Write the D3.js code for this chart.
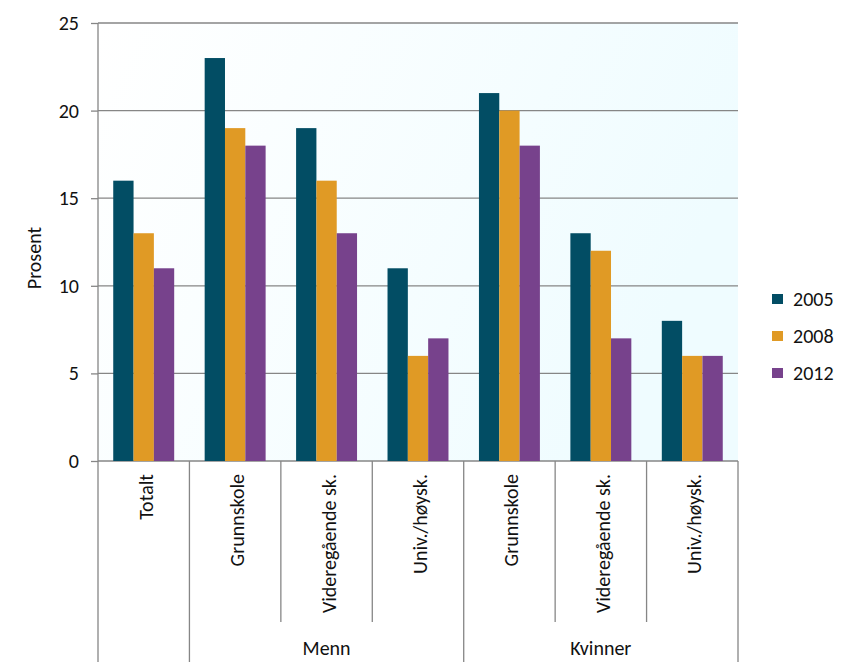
<html>
<head>
<script src="https://cdnjs.cloudflare.com/ajax/libs/d3/7.8.5/d3.min.js"></script>
<style>
  body { margin: 0; background: white; }
  text { font-family: Carlito, "Open Sans", sans-serif; fill: #111; }
</style>
</head>
<body>
<svg id="chart" width="856" height="672"></svg>
<script>
// chart values
var catLabels = ["Totalt", "Grunnskole", "Videregående sk.", "Univ./høysk.", "Grunnskole", "Videregående sk.", "Univ./høysk."];
var catGroups = ["", "Menn", "Menn", "Menn", "Kvinner", "Kvinner", "Kvinner"];
var years = ["2005", "2008", "2012"];
var v2005 = [16, 23, 19, 11, 21, 13, 8];
var v2008 = [13, 19, 16, 6, 20, 12, 6];
var v2012 = [11, 18, 13, 7, 18, 7, 6];
var yTicks = [0, 5, 10, 15, 20, 25];
var colors = ["#024d64", "#e09a25", "#77428c"];

function draw() {
    var series = [v2005, v2008, v2012];
    var svg = d3.select("#chart");

    var pLeft = 98, pRight = 738, pTop = 23, pBottom = 461;

    var x = d3.scaleBand().domain(d3.range(catLabels.length)).range([pLeft, pRight]);
    var xIn = d3.scaleBand().domain(years).range([0, x.bandwidth()]).paddingInner(0).paddingOuter(0.75);
    var y = d3.scaleLinear().domain([0, 25]).range([pBottom, pTop]);

    // plot background gradient
    var grad = svg.append("defs").append("linearGradient").attr("id", "bg")
        .attr("x1", "0%").attr("y1", "0%").attr("x2", "100%").attr("y2", "30%");
    grad.append("stop").attr("offset", "0%").attr("stop-color", "#ffffff");
    grad.append("stop").attr("offset", "100%").attr("stop-color", "#effcff");
    svg.append("rect").attr("x", pLeft).attr("y", pTop)
        .attr("width", pRight - pLeft).attr("height", pBottom - pTop)
        .attr("fill", "url(#bg)");

    // y axis with gridlines
    var yAxis = svg.append("g")
        .attr("transform", "translate(" + pLeft + ",0)")
        .call(d3.axisLeft(y).tickValues(yTicks).tickSize(7).tickPadding(12));
    yAxis.select(".domain").remove();
    yAxis.selectAll(".tick line").attr("stroke", "#868686").attr("stroke-width", 1.3);
    yAxis.selectAll(".tick text").style("font-size", "20px").attr("fill", "#111");
    svg.append("g").selectAll("line").data(yTicks).enter().append("line")
        .attr("x1", pLeft).attr("x2", pRight)
        .attr("y1", function(d) { return y(d); }).attr("y2", function(d) { return y(d); })
        .attr("stroke", "#868686").attr("stroke-width", 1.3);
    svg.append("line").attr("x1", pLeft).attr("x2", pLeft).attr("y1", pTop).attr("y2", pBottom)
        .attr("stroke", "#868686").attr("stroke-width", 1.3);

    svg.append("text")
        .attr("transform", "translate(41,258) rotate(-90)")
        .attr("text-anchor", "middle")
        .style("font-size", "20px")
        .text("Prosent");

    // bars
    series.forEach(function(vals, s) {
        svg.append("g").selectAll("rect").data(vals).enter().append("rect")
            .attr("x", function(d, i) { return x(i) + xIn(years[s]); })
            .attr("y", function(d) { return y(d); })
            .attr("width", xIn.bandwidth())
            .attr("height", function(d) { return pBottom - y(d); })
            .attr("fill", colors[s]);
    });

    // category axis separators
    var seps = d3.range(catLabels.length + 1);
    svg.append("g").selectAll("line").data(seps).enter().append("line")
        .attr("x1", function(i) { return i < catLabels.length ? x(i) : pRight; })
        .attr("x2", function(i) { return i < catLabels.length ? x(i) : pRight; })
        .attr("y1", pBottom)
        .attr("y2", function(i) {
            var isGroupEdge = i == 0 || i == catLabels.length || catGroups[i] != catGroups[i - 1];
            return isGroupEdge ? 662 : 622;
        })
        .attr("stroke", "#868686").attr("stroke-width", 1.3);

    svg.append("g").selectAll("text").data(catLabels).enter().append("text")
        .attr("transform", function(d, i) {
            return "translate(" + (x(i) + x.bandwidth() / 2 + 9) + ",474) rotate(-90)";
        })
        .attr("text-anchor", "end")
        .style("font-size", "20px")
        .text(function(d) { return d; });

    // group labels
    ["Menn", "Kvinner"].forEach(function(g) {
        var idx = catGroups.map(function(c, i) { return c == g ? i : -1; }).filter(function(i) { return i >= 0; });
        var x0 = x(idx[0]), x1 = x(idx[idx.length - 1]) + x.bandwidth();
        svg.append("text")
            .attr("x", (x0 + x1) / 2).attr("y", 655)
            .attr("text-anchor", "middle")
            .style("font-size", "20px")
            .text(g);
    });

    // legend
    var legend = svg.append("g").selectAll("g").data(years).enter().append("g")
        .attr("transform", function(d, i) { return "translate(772," + (299 + i * 37) + ")"; });
    legend.append("rect").attr("x", 0).attr("y", -5).attr("width", 11).attr("height", 10)
        .attr("fill", function(d, i) { return colors[i]; });
    legend.append("text").attr("x", 21).attr("y", 7)
        .style("font-size", "20px")
        .text(function(d) { return d; });
}
draw();
</script>
</body>
</html>
